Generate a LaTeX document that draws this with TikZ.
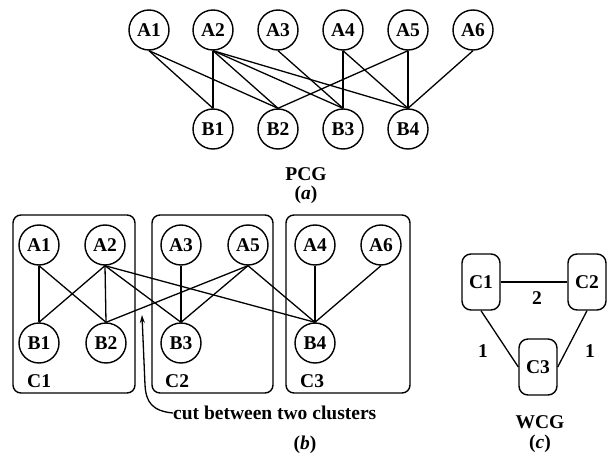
\documentclass[tikz,border=0pt]{standalone}
\usepackage{fontspec}
\setmainfont{Liberation Serif}
\usetikzlibrary{arrows.meta}
\newcommand{\pcgLabel}{\fontsize{19.5}{21}\selectfont\bfseries}
\tikzset{
  vtx/.style={circle, draw, line width=1.4pt, minimum size=40pt, inner sep=0pt, font=\pcgLabel},
  clbox/.style={draw, line width=1.4pt, rounded corners=8pt},
  wnode/.style={draw, line width=1.4pt, rounded corners=9pt, minimum width=38pt, minimum height=56pt, inner sep=0pt, font=\pcgLabel},
  edge/.style={line width=1.3pt},
  caption/.style={inner sep=0pt, font=\pcgLabel}
}

\begin{document}
\begin{tikzpicture}[x=1pt,y=-1pt]
\useasboundingbox (0,0) rectangle (616,460);
\node[vtx] (pa1) at (149,30) {A1};
\node[vtx] (pa2) at (213,30) {A2};
\node[vtx] (pa3) at (278,30) {A3};
\node[vtx] (pa4) at (343,30) {A4};
\node[vtx] (pa5) at (408,30) {A5};
\node[vtx] (pa6) at (473,30) {A6};
\node[vtx] (pb1) at (213,129) {B1};
\node[vtx] (pb2) at (278,129) {B2};
\node[vtx] (pb3) at (343,129) {B3};
\node[vtx] (pb4) at (408,129) {B4};
\draw[edge] (pa1.south) -- (pb1.north);
\draw[edge] (pa1.south) -- (pb2.north);
\draw[edge] (pa2.south) -- (pb1.north);
\draw[edge] (pa2.south) -- (pb2.north);
\draw[edge] (pa2.south) -- (pb3.north);
\draw[edge] (pa2.south) -- (pb4.north);
\draw[edge] (pa3.south) -- (pb3.north);
\draw[edge] (pa4.south) -- (pb3.north);
\draw[edge] (pa4.south) -- (pb4.north);
\draw[edge] (pa5.south) -- (pb2.north);
\draw[edge] (pa5.south) -- (pb4.north);
\draw[edge] (pa6.south) -- (pb4.north);
\node[caption] (pcg) at (306,174) {PCG};
\node[caption] (capa) at (306,195) {(\textit{a})};

\draw[clbox] (13,215) rectangle (135,393);
\draw[clbox] (152,215) rectangle (273,393);
\draw[clbox] (286,215) rectangle (410,393);
\node[caption, anchor=west] (lc1) at (27,381) {C1};
\node[caption, anchor=west] (lc2) at (165,381) {C2};
\node[caption, anchor=west] (lc3) at (300,381) {C3};
\node[vtx] (ca1) at (39,245) {A1};
\node[vtx] (ca2) at (105,245) {A2};
\node[vtx] (ca3) at (181,245) {A3};
\node[vtx] (ca5) at (248,245) {A5};
\node[vtx] (ca4) at (315,245) {A4};
\node[vtx] (ca6) at (381,245) {A6};
\node[vtx] (cb1) at (39,343) {B1};
\node[vtx] (cb2) at (106,343) {B2};
\node[vtx] (cb3) at (181,343) {B3};
\node[vtx] (cb4) at (315,343) {B4};
\draw[edge] (ca1.south) -- (cb1.north);
\draw[edge] (ca1.south) -- (cb2.north);
\draw[edge] (ca2.south) -- (cb1.north);
\draw[edge] (ca2.south) -- (cb2.north);
\draw[edge] (ca2.south) -- (cb3.north);
\draw[edge] (ca2.south) -- (cb4.north);
\draw[edge] (ca3.south) -- (cb3.north);
\draw[edge] (ca5.south) -- (cb2.north);
\draw[edge] (ca5.south) -- (cb3.north);
\draw[edge] (ca5.south) -- (cb4.north);
\draw[edge] (ca4.south) -- (cb4.north);
\draw[edge] (ca6.south) -- (cb4.north);
\node[caption, anchor=west] (cut) at (173,413) {cut between two clusters};
\coordinate (cutpt) at (142,315);
\draw[edge, -{Stealth[length=8pt, width=5pt]}] (cut.west) .. controls (152,411) and (146,402) .. (145,385) -- (cutpt);
\node[caption] (capb) at (305,445) {(\textit{b})};

\node[wnode] (w1) at (481,282) {C1};
\node[wnode] (w2) at (587,282) {C2};
\node[wnode] (w3) at (538,367) {C3};
\draw[edge] (w1.east) -- (w2.west);
\draw[edge] (w1.south) -- (w3.west);
\draw[edge] (w2.south) -- (w3.east);
\node[caption] (wt12) at (537,298) {2};
\node[caption] (wt13) at (483,351) {1};
\node[caption] (wt23) at (590,351) {1};
\node[caption] (wcg) at (540,422) {WCG};
\node[caption] (capc) at (540,444) {(\textit{c})};
\end{tikzpicture}
\end{document}
